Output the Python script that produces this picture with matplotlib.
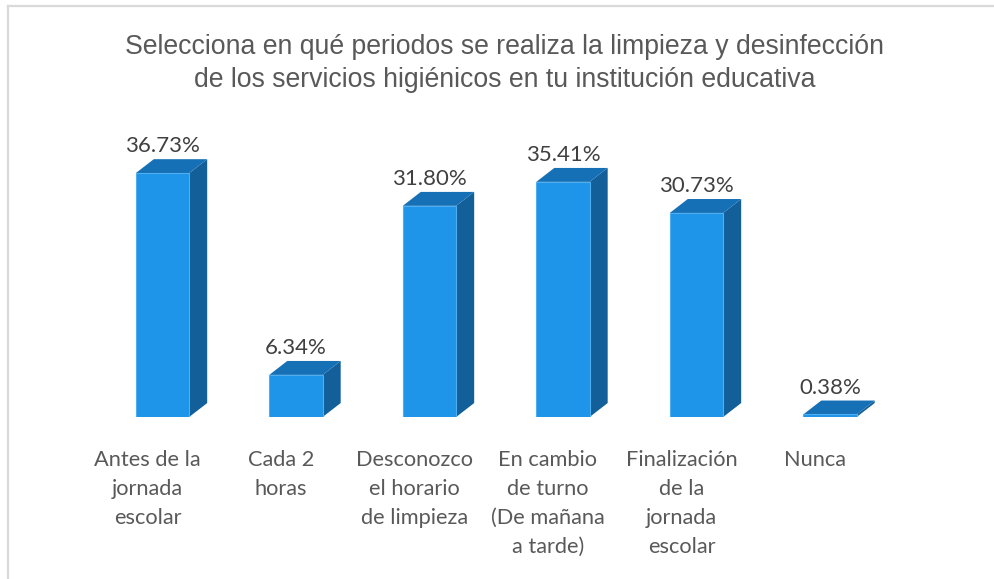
import matplotlib
matplotlib.use("Agg")
import matplotlib.pyplot as plt
from matplotlib.patches import Polygon, Rectangle
from matplotlib.lines import Line2D

categories = [
    "Antes de la\njornada\nescolar",
    "Cada 2\nhoras",
    "Desconozco\nel horario\nde limpieza",
    "En cambio\nde turno\n(De mañana\na tarde)",
    "Finalización\nde la\njornada\nescolar",
    "Nunca",
]
values = [36.73, 6.34, 31.80, 35.41, 30.73, 0.38]
title = ("Selecciona en qué periodos se realiza la limpieza y desinfección\n"
         "de los servicios higiénicos en tu institución educativa")

front_c = "#1F95E9"
side_c = "#125F99"
top_c = "#1670B6"
width = 0.4
dx, dy = 0.135, 2.1  # depth of the 3d look, in data units

fig = plt.figure(figsize=(9.95, 5.79), dpi=100)
ax = fig.add_axes([0.0962, 0.2798, 0.805, 0.4587])
ax.set_xlim(-0.5, len(values) - 0.5)
ax.set_ylim(0, 40)
ax.axis("off")

for i, v in enumerate(values):
    x0, x1 = i - width / 2, i + width / 2
    ax.add_patch(Polygon([(x1, 0), (x1 + dx, dy), (x1 + dx, v + dy), (x1, v)],
                         closed=True, facecolor=side_c, edgecolor="none"))
    ax.add_patch(Polygon([(x0, v), (x1, v), (x1 + dx, v + dy), (x0 + dx, v + dy)],
                         closed=True, facecolor=top_c, edgecolor="none"))
    ax.add_patch(Rectangle((x0, 0), width, v, facecolor=front_c,
                           edgecolor="#4FAEF0", linewidth=0.8))
    ax.annotate(f"{v:.2f}%", (i, v + dy), xytext=(0, 3), textcoords="offset pixels",
                ha="center", va="bottom", fontsize=16, family="Lato", color="#404040")
    ax.annotate(categories[i], (i, 0), xytext=(-15, -33), textcoords="offset pixels",
                ha="center", va="top", fontsize=15.7, family="Lato", color="#595959",
                linespacing=1.56)

fig.text(0.507, 1 - 34 / 579, title, ha="center", va="top", fontsize=19.2,
         family="Liberation Sans", color="#595959", linespacing=1.33)

# light frame of the chart area
fig.add_artist(Line2D([8 / 995, 1], [1 - 6 / 579, 1 - 6 / 579], transform=fig.transFigure,
                      color="#D9D9D9", linewidth=1.6))
fig.add_artist(Line2D([8 / 995, 8 / 995], [1 - 6 / 579, 0], transform=fig.transFigure,
                      color="#D9D9D9", linewidth=1.6))

fig.savefig("out.png", dpi=100)
